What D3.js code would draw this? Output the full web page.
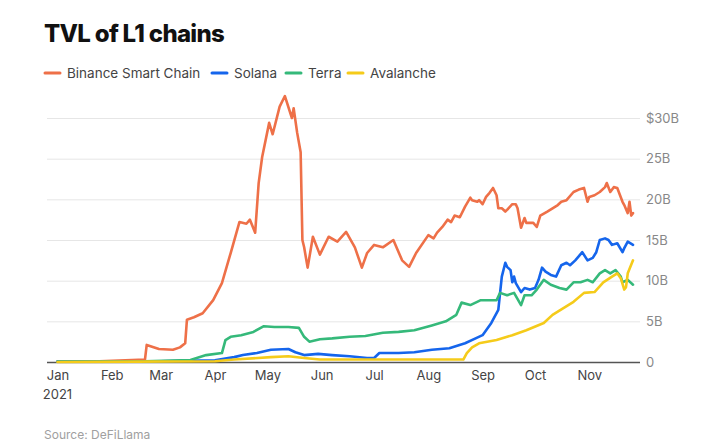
<!DOCTYPE html>
<html>
<head>
<meta charset="utf-8">
<script src="https://cdn.jsdelivr.net/npm/d3@7"></script>
<style>
  body { margin: 0; background: #fff; font-family: "Inter", "Roboto", sans-serif; }
  .tick text { font-family: "Inter", "Roboto", sans-serif; }
</style>
</head>
<body>
<div id="chart"></div>
<script>
// series data (value in $B)
var bscData = [
  ["2021-01-01", 0.05], ["2021-01-25", 0.1], ["2021-02-20", 0.3], ["2021-02-21", 2.1],
  ["2021-02-28", 1.6], ["2021-03-08", 1.5], ["2021-03-12", 1.8], ["2021-03-15", 2.3],
  ["2021-03-16", 5.2], ["2021-03-20", 5.5], ["2021-03-25", 6.0], ["2021-03-31", 7.6],
  ["2021-04-05", 9.7], ["2021-04-10", 13.4], ["2021-04-15", 17.2], ["2021-04-19", 17.0],
  ["2021-04-21", 17.5], ["2021-04-24", 15.9], ["2021-04-26", 22.0], ["2021-04-28", 25.2],
  ["2021-05-02", 29.4], ["2021-05-04", 28.0], ["2021-05-08", 31.4], ["2021-05-11", 32.7],
  ["2021-05-15", 30.0], ["2021-05-16", 31.2], ["2021-05-18", 28.2], ["2021-05-20", 25.8],
  ["2021-05-21", 15.0], ["2021-05-22", 14.1], ["2021-05-24", 11.6], ["2021-05-27", 15.4],
  ["2021-05-31", 13.2], ["2021-06-05", 15.4], ["2021-06-10", 14.8], ["2021-06-15", 16.0],
  ["2021-06-20", 14.1], ["2021-06-24", 11.6], ["2021-06-27", 13.4], ["2021-07-01", 14.4],
  ["2021-07-06", 14.1], ["2021-07-12", 15.0], ["2021-07-17", 12.5], ["2021-07-21", 11.7],
  ["2021-07-25", 13.4], ["2021-08-01", 15.6], ["2021-08-04", 15.2], ["2021-08-06", 15.9],
  ["2021-08-09", 16.6], ["2021-08-12", 17.5], ["2021-08-14", 17.2], ["2021-08-16", 18.0],
  ["2021-08-19", 17.8], ["2021-08-22", 19.1], ["2021-08-25", 20.2], ["2021-08-26", 19.9],
  ["2021-08-29", 19.7], ["2021-08-30", 19.9], ["2021-09-01", 19.4], ["2021-09-03", 20.3],
  ["2021-09-05", 20.8], ["2021-09-07", 21.4], ["2021-09-09", 20.5], ["2021-09-10", 18.9],
  ["2021-09-12", 18.9], ["2021-09-14", 18.5], ["2021-09-15", 18.7], ["2021-09-18", 19.4],
  ["2021-09-20", 19.4], ["2021-09-21", 18.9], ["2021-09-23", 16.5], ["2021-09-25", 17.7],
  ["2021-09-26", 17.1], ["2021-09-30", 17.1], ["2021-10-02", 16.6], ["2021-10-04", 18.0],
  ["2021-10-08", 18.5], ["2021-10-11", 18.9], ["2021-10-14", 19.3], ["2021-10-16", 19.7],
  ["2021-10-19", 19.9], ["2021-10-23", 20.9], ["2021-10-26", 21.2], ["2021-10-29", 21.4],
  ["2021-10-31", 19.7], ["2021-11-01", 20.3], ["2021-11-04", 20.5], ["2021-11-07", 20.9],
  ["2021-11-10", 21.5], ["2021-11-11", 22.0], ["2021-11-13", 20.9], ["2021-11-15", 21.5],
  ["2021-11-17", 21.4], ["2021-11-20", 19.7], ["2021-11-21", 19.3], ["2021-11-23", 18.3],
  ["2021-11-24", 19.7], ["2021-11-25", 18.0], ["2021-11-26", 18.3]
];

var solanaData = [
  ["2021-01-01", 0.05], ["2021-03-01", 0.1], ["2021-04-01", 0.2], ["2021-04-12", 0.6],
  ["2021-04-17", 0.85], ["2021-04-25", 1.1], ["2021-05-03", 1.5], ["2021-05-13", 1.6],
  ["2021-05-17", 1.2], ["2021-05-22", 0.85], ["2021-05-30", 1.0], ["2021-06-07", 0.85],
  ["2021-06-17", 0.7], ["2021-06-27", 0.5], ["2021-07-01", 0.5], ["2021-07-04", 1.1],
  ["2021-07-15", 1.1], ["2021-07-24", 1.2], ["2021-08-03", 1.5], ["2021-08-13", 1.7],
  ["2021-08-22", 2.3], ["2021-08-28", 2.9], ["2021-09-01", 3.3], ["2021-09-06", 4.8],
  ["2021-09-10", 6.4], ["2021-09-12", 10.5], ["2021-09-14", 12.2], ["2021-09-15", 11.7],
  ["2021-09-17", 11.3], ["2021-09-18", 9.8], ["2021-09-19", 10.5], ["2021-09-20", 9.7],
  ["2021-09-23", 8.6], ["2021-09-25", 9.1], ["2021-09-28", 8.9], ["2021-10-01", 9.1],
  ["2021-10-03", 10.1], ["2021-10-05", 11.6], ["2021-10-07", 11.1], ["2021-10-10", 10.7],
  ["2021-10-13", 10.5], ["2021-10-16", 11.9], ["2021-10-19", 12.2], ["2021-10-21", 11.9],
  ["2021-10-24", 12.5], ["2021-10-28", 13.5], ["2021-10-31", 12.5], ["2021-11-03", 12.8],
  ["2021-11-05", 13.5], ["2021-11-07", 15.0], ["2021-11-10", 15.2], ["2021-11-12", 15.0],
  ["2021-11-14", 14.4], ["2021-11-17", 14.6], ["2021-11-20", 13.5], ["2021-11-21", 14.0],
  ["2021-11-23", 14.8], ["2021-11-26", 14.4]
];

var terraData = [
  ["2021-01-01", 0.05], ["2021-02-20", 0.1], ["2021-03-18", 0.25], ["2021-03-27", 0.85],
  ["2021-04-05", 1.1], ["2021-04-07", 2.7], ["2021-04-10", 3.1], ["2021-04-16", 3.3],
  ["2021-04-23", 3.7], ["2021-04-29", 4.4], ["2021-05-05", 4.3], ["2021-05-13", 4.3],
  ["2021-05-19", 4.2], ["2021-05-22", 3.1], ["2021-05-25", 2.5], ["2021-05-31", 2.8],
  ["2021-06-07", 2.9], ["2021-06-17", 3.1], ["2021-06-26", 3.2], ["2021-07-06", 3.6],
  ["2021-07-15", 3.7], ["2021-07-24", 3.9], ["2021-08-03", 4.5], ["2021-08-11", 5.0],
  ["2021-08-17", 5.8], ["2021-08-20", 7.3], ["2021-08-25", 7.0], ["2021-08-31", 7.6],
  ["2021-09-09", 7.6], ["2021-09-11", 8.5], ["2021-09-15", 8.2], ["2021-09-19", 8.5],
  ["2021-09-23", 7.0], ["2021-09-25", 8.2], ["2021-09-29", 8.2], ["2021-10-02", 8.9],
  ["2021-10-06", 10.1], ["2021-10-10", 9.5], ["2021-10-15", 9.1], ["2021-10-19", 8.9],
  ["2021-10-23", 9.8], ["2021-10-27", 9.8], ["2021-10-31", 10.1], ["2021-11-03", 9.8],
  ["2021-11-07", 10.9], ["2021-11-10", 11.3], ["2021-11-13", 10.9], ["2021-11-16", 11.3],
  ["2021-11-19", 10.5], ["2021-11-20", 9.8], ["2021-11-23", 10.1], ["2021-11-26", 9.5]
];

var avalancheData = [
  ["2021-01-01", 0.0], ["2021-02-15", 0.05], ["2021-04-01", 0.1], ["2021-04-12", 0.3],
  ["2021-05-03", 0.6], ["2021-05-13", 0.7], ["2021-05-22", 0.5], ["2021-05-31", 0.3],
  ["2021-07-15", 0.3], ["2021-08-21", 0.3], ["2021-08-23", 1.1], ["2021-08-26", 1.8],
  ["2021-08-30", 2.3], ["2021-09-09", 2.7], ["2021-09-18", 3.3], ["2021-09-26", 3.9],
  ["2021-10-06", 4.8], ["2021-10-11", 5.8], ["2021-10-17", 6.6], ["2021-10-23", 7.4],
  ["2021-10-29", 8.5], ["2021-11-04", 8.6], ["2021-11-09", 9.8], ["2021-11-14", 10.5],
  ["2021-11-17", 10.9], ["2021-11-19", 10.3], ["2021-11-21", 8.9], ["2021-11-22", 9.2],
  ["2021-11-23", 10.9], ["2021-11-26", 12.5]
];

var seriesNames = ["Binance Smart Chain", "Solana", "Terra", "Avalanche"];
var seriesColors = ["#ee7048", "#1565ec", "#35b97a", "#f5cb1a"];
var yTicks = [0, 5, 10, 15, 20, 25, 30];

var svgWidth = 712, svgHeight = 441;

var svg = d3.select("#chart")
  .append("svg")
  .attr("width", svgWidth)
  .attr("height", svgHeight);

var parseDate = d3.timeParse("%Y-%m-%d");
var allSeries = [bscData, solanaData, terraData, avalancheData].map(function(arr) {
  return arr.map(function(d) { return { date: parseDate(d[0]), value: d[1] }; });
});

// scales
var xScale = d3.scaleTime()
  .domain([new Date(2020, 11, 26), new Date(2021, 10, 30)])
  .range([47, 640]);

var yScale = d3.scaleLinear()
  .domain([0, 30])
  .range([362, 118]);

// title
svg.append("text")
  .attr("x", 44)
  .attr("y", 42)
  .style("font-family", "Inter, Roboto, sans-serif")
  .style("font-weight", 800)
  .style("font-size", "24px")
  .style("letter-spacing", "-0.7px")
  .style("fill", "#111")
  .text("TVL of L1 chains");

// legend
var legendX = [45, 212, 286, 348];
var legend = svg.append("g");
seriesNames.forEach(function(name, i) {
  var g = legend.append("g").attr("transform", `translate(${legendX[i]}, 73)`);
  g.append("line")
    .attr("x1", 0).attr("x2", 15)
    .attr("y1", 0).attr("y2", 0)
    .attr("stroke", seriesColors[i])
    .attr("stroke-width", 3)
    .attr("stroke-linecap", "round");
  g.append("text")
    .attr("x", 22)
    .attr("y", 5)
    .style("font-size", "13.5px")
    .style("fill", "#444")
    .text(name);
});

// gridlines + y labels
var yAxis = d3.axisRight(yScale)
  .tickValues(yTicks)
  .tickSize(-(640 - 47))
  .tickPadding(6)
  .tickFormat(function(d) { return d === 30 ? "$30B" : d === 0 ? "0" : d + "B"; });

var yAxisG = svg.append("g")
  .attr("transform", "translate(640, 0)")
  .call(yAxis);
yAxisG.select(".domain").remove();
yAxisG.selectAll(".tick line")
  .attr("stroke", function(d) { return d === 0 ? "#555" : "#e6e6e6"; })
  .attr("stroke-width", function(d) { return d === 0 ? 1.5 : 1; });
yAxisG.selectAll(".tick text")
  .style("font-size", "13px")
  .style("fill", "#888");

// x axis
var xAxis = d3.axisBottom(xScale)
  .ticks(d3.timeMonth.every(1))
  .tickSize(0)
  .tickPadding(9)
  .tickFormat(d3.timeFormat("%b"));

var xAxisG = svg.append("g")
  .attr("transform", "translate(0, 362)")
  .call(xAxis);
xAxisG.select(".domain").remove();
xAxisG.selectAll(".tick text")
  .style("font-size", "13px")
  .style("fill", "#444");

svg.append("text")
  .attr("x", xScale(new Date(2021, 0, 1)))
  .attr("y", 399)
  .attr("text-anchor", "middle")
  .style("font-size", "13px")
  .style("fill", "#444")
  .text("2021");

// lines
var line = d3.line()
  .x(d => xScale(d.date))
  .y(d => yScale(d.value));

svg.append("g")
  .selectAll("path")
  .data(allSeries)
  .enter()
  .append("path")
  .attr("d", line)
  .attr("fill", "none")
  .attr("stroke", (d, i) => seriesColors[i])
  .attr("stroke-width", 2.6)
  .attr("stroke-linejoin", "round")
  .attr("stroke-linecap", "round");

// source
svg.append("text")
  .attr("x", 44)
  .attr("y", 439)
  .style("font-size", "12px")
  .style("fill", "#a0a0a0")
  .text("Source: DeFiLlama");
</script>
</body>
</html>
